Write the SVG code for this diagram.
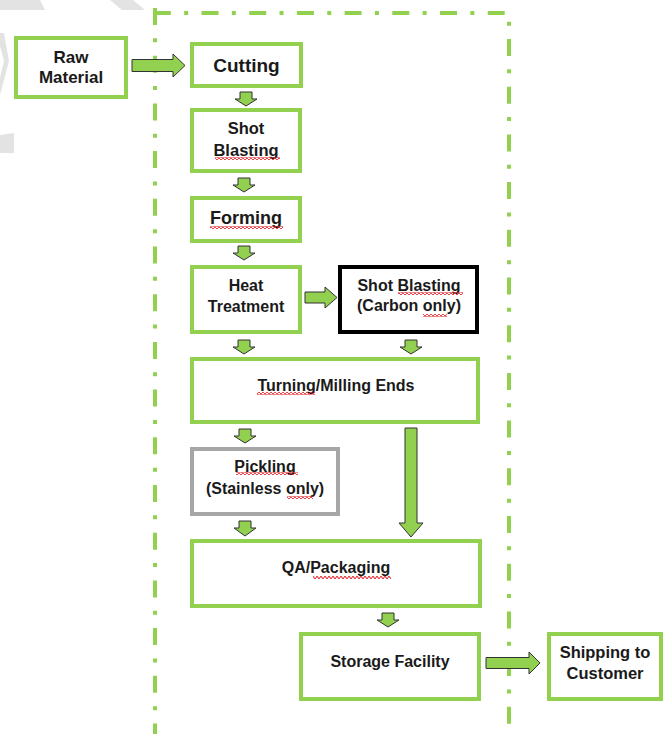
<svg xmlns="http://www.w3.org/2000/svg" width="670" height="734" viewBox="0 0 670 734">
  <style>
    .box{fill:#fff;stroke:#92D050;stroke-width:4}
    .box-black{fill:#fff;stroke:#000;stroke-width:4}
    .box-gray{fill:#fff;stroke:#A6A6A6;stroke-width:4}
    .lbl{font-family:"Liberation Sans",Arial,sans-serif;font-weight:bold;fill:#1a1a1a;text-anchor:middle;font-size:16px}
    .arrow{fill:#92D050;stroke:#333;stroke-width:1}
    .border{stroke:#92D050;stroke-width:4;fill:none;stroke-dasharray:17 13.35 4 13.35}
    .wm{fill:#e3e3e3}
  </style>
  <defs>
    <pattern id="squig" patternUnits="userSpaceOnUse" width="4" height="3">
      <path d="M0,1.5 C1,0 1,0 2,1.5 S3,3 4,1.5" fill="none" stroke="#e0262a" stroke-width="1.1"/>
    </pattern>
  </defs>
  <rect width="670" height="734" fill="#fff"/>

  <g id="watermark">
    <polygon class="wm" points="0,0 40,0 45,10 0,10"/>
    <polygon class="wm" points="110,0 133,0 145,10 122,10"/>
    <polygon class="wm" points="0,33 4,33 9,61 0,95 0,78 4,61 0,46"/>
    <polygon class="wm" points="0,135 14,133 14,153 0,153"/>
  </g>

  <g id="boundary">
    <line class="border" x1="155" y1="8" x2="155" y2="734"/>
    <line class="border" x1="153.8" y1="13" x2="511" y2="13"/>
    <line class="border" x1="509" y1="13" x2="509" y2="734" stroke-dashoffset="21.7"/>
  </g>

  <g id="connectors">
    <path class="arrow" d="M132,59.5 H173 V54 L185,65.5 L173,77 V71.5 H132 Z"/>
    <path class="arrow" d="M240,92 H252 V99 H257 L246,106 L235,99 H240 Z"/>
    <path class="arrow" d="M238,178 H250 V185 H255 L244,192 L233,185 H238 Z"/>
    <path class="arrow" d="M238,246 H250 V253 H255 L244,260 L233,253 H238 Z"/>
    <path class="arrow" d="M305,292 H325 V287 L337,297.5 L325,308 V303 H305 Z"/>
    <path class="arrow" d="M238,340 H250 V347 H255 L244,354 L233,347 H238 Z"/>
    <path class="arrow" d="M405,340 H417 V347 H422 L411,354 L400,347 H405 Z"/>
    <path class="arrow" d="M239,429 H251 V436 H256 L245,443 L234,436 H239 Z"/>
    <path class="arrow" d="M405,428 H417 V523 H423 L411,537 L399,523 H405 Z"/>
    <path class="arrow" d="M239,521 H251 V528 H256 L245,536 L234,528 H239 Z"/>
    <path class="arrow" d="M382,613 H394 V620 H399 L388,627 L377,620 H382 Z"/>
    <path class="arrow" d="M486,657.5 H529 V652 L540,663 L529,674 V668.5 H486 Z"/>
  </g>

  <g id="raw-material">
    <rect class="box" x="16" y="38" width="110" height="59"/>
    <text class="lbl" x="71" y="63" style="font-size:17px">Raw</text>
    <text class="lbl" x="71" y="83" style="font-size:17px">Material</text>
  </g>

  <g id="cutting">
    <rect class="box" x="192" y="44" width="109" height="42"/>
    <text class="lbl" x="246.5" y="72" style="font-size:19px">Cutting</text>
  </g>

  <g id="shot-blasting">
    <rect class="box" x="192" y="110" width="108" height="61"/>
    <text class="lbl" x="246" y="134" style="font-size:16.5px">Shot</text>
    <text class="lbl" x="246" y="156" style="font-size:16.5px">Blasting</text>
    <rect x="215" y="157" width="65" height="3" fill="url(#squig)"/>
  </g>

  <g id="forming">
    <rect class="box" x="192" y="198" width="108" height="43"/>
    <text class="lbl" x="246" y="224" style="font-size:18px">Forming</text>
    <rect x="210" y="226" width="73" height="3" fill="url(#squig)"/>
  </g>

  <g id="heat-treatment">
    <rect class="box" x="192" y="267" width="108" height="65"/>
    <text class="lbl" x="246" y="291">Heat</text>
    <text class="lbl" x="246" y="312">Treatment</text>
  </g>

  <g id="shot-blasting-carbon">
    <rect class="box-black" x="340" y="267" width="137" height="65"/>
    <text class="lbl" x="409" y="291">Shot Blasting</text>
    <text class="lbl" x="409" y="311">(Carbon only)</text>
    <rect x="398" y="292" width="65" height="3" fill="url(#squig)"/>
    <rect x="423" y="314" width="24" height="3" fill="url(#squig)"/>
  </g>

  <g id="turning-milling">
    <rect class="box" x="192" y="359" width="286" height="63"/>
    <text class="lbl" x="336" y="391">Turning/Milling Ends</text>
    <rect x="257" y="392" width="58" height="3" fill="url(#squig)"/>
  </g>

  <g id="pickling">
    <rect class="box-gray" x="192" y="449" width="146" height="65"/>
    <text class="lbl" x="265" y="472">Pickling</text>
    <text class="lbl" x="265" y="494">(Stainless only)</text>
    <rect x="236" y="472" width="62" height="3" fill="url(#squig)"/>
    <rect x="287" y="496" width="26" height="3" fill="url(#squig)"/>
  </g>

  <g id="qa-packaging">
    <rect class="box" x="192" y="541" width="288" height="65"/>
    <text class="lbl" x="336" y="573">QA/Packaging</text>
    <rect x="313" y="576" width="78" height="3" fill="url(#squig)"/>
  </g>

  <g id="storage-facility">
    <rect class="box" x="301" y="634" width="178" height="65"/>
    <text class="lbl" x="390" y="667">Storage Facility</text>
  </g>

  <g id="shipping">
    <rect class="box" x="549" y="634" width="112" height="65"/>
    <text class="lbl" x="605" y="658" style="font-size:16.5px">Shipping to</text>
    <text class="lbl" x="605" y="679" style="font-size:16.5px">Customer</text>
  </g>
</svg>
